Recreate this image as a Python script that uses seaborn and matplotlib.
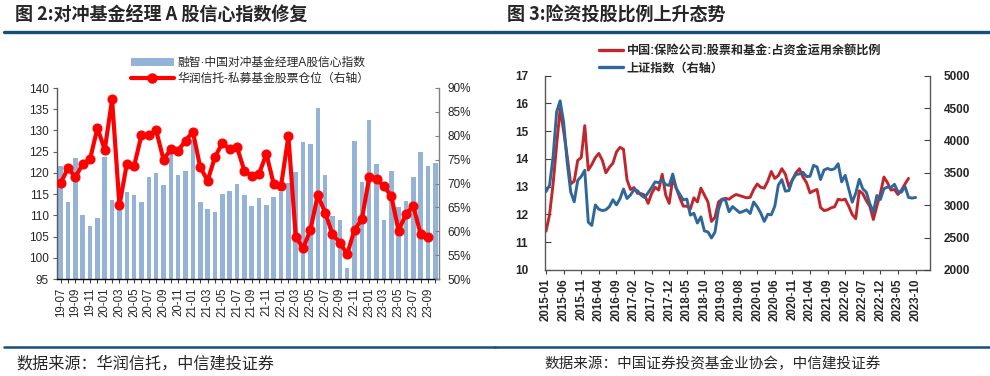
import numpy as np
import pandas as pd
import matplotlib
matplotlib.use("Agg")
import matplotlib.pyplot as plt
import seaborn as sns
from matplotlib.patches import Patch
from matplotlib.lines import Line2D

# ---- Figure 2: hedge fund manager confidence vs. private fund equity position
conf_months = pd.period_range("2019-07", "2023-10", freq="M").strftime("%y-%m").tolist()
confidence = [121.7, 113.2, 123.6, 110.1, 107.5, 109.4, 123.8, 113.6, 111.5, 115.5,
              114.8, 113.2, 119.1, 120.0, 117.2, 124.7, 119.6, 120.5, 127.8, 113.2,
              111.5, 110.8, 115.1, 115.8, 117.4, 114.8, 112.1, 114.2, 112.5, 114.4,
              115.5, 117.6, 120.1, 127.2, 126.9, 135.4, 119.5, 109.9, 108.8, 97.6,
              127.4, 117.9, 132.5, 122.1, 108.9, 120.5, 112.0, 113.4, 119.0, 125.0,
              121.7, 122.4]
position = [70.1, 73.2, 71.3, 74.1, 75.1, 81.6, 77.1, 87.6, 65.4, 74.1,
            73.7, 80.1, 80.2, 81.1, 75.0, 77.2, 76.9, 79.0, 80.8, 73.4,
            70.6, 75.5, 78.5, 77.2, 77.6, 72.7, 71.6, 72.0, 76.2, 69.9,
            69.5, 79.9, 58.9, 56.4, 60.3, 67.6, 63.9, 59.4, 57.6, 55.2,
            60.3, 62.5, 71.3, 71.0, 69.4, 67.4, 60.1, 63.6, 65.3, 59.4,
            58.7, np.nan]

# ---- Figure 3: insurers' stock+fund share vs. Shanghai Composite
ins_months = pd.period_range("2015-01", "2023-10", freq="M").strftime("%Y-%m").tolist()
stock_ratio = [11.4, 12.0, 13.1, 14.5, 15.8, 15.0, 14.1, 13.1, 13.2, 13.95, 14.05, 15.2,
               13.6, 13.8, 14.05, 14.2, 13.95, 13.5, 13.7, 13.85, 14.25, 14.42, 14.35, 13.25,
               12.9, 12.97, 12.76, 12.75, 12.7, 12.4, 12.76, 12.98, 12.88, 13.45, 12.7, 12.4,
               13.3, 12.95, 12.6, 12.3, 12.3, 12.2, 12.6, 12.45, 12.95, 12.7, 12.45, 11.75,
               11.9, 12.45, 12.55, 12.58, 12.55, 12.65, 12.72, 12.68, 12.64, 12.6, 12.62, 12.9,
               13.1, 12.98, 12.95, 13.2, 13.55, 13.3, 13.4, 13.65, 13.45, 13.0, 13.25, 13.5,
               13.65, 13.35, 13.15, 12.78, 12.85, 12.9, 12.25, 12.14, 12.17, 12.24, 12.28, 12.55,
               12.52, 12.55, 12.3, 12.0, 11.85, 12.85, 12.75, 12.5, 12.3, 11.82, 12.3, 12.75,
               13.35, 13.15, 12.88, 12.9, 12.72, 12.88, 13.1, 13.3, np.nan, np.nan]
sh_index = [3210, 3310, 3748, 4441, 4612, 4277, 3664, 3206, 3053, 3383, 3445, 3539,
            2738, 2688, 3004, 2938, 2917, 2930, 2979, 3085, 3005, 3100, 3250, 3104,
            3159, 3242, 3223, 3155, 3117, 3193, 3273, 3361, 3349, 3393, 3317, 3307,
            3481, 3259, 3169, 3082, 3095, 2847, 2876, 2725, 2821, 2603, 2588, 2494,
            2585, 2941, 3091, 3078, 2899, 2979, 2933, 2886, 2905, 2929, 2872, 3050,
            2977, 2880, 2750, 2860, 2852, 2985, 3310, 3396, 3218, 3225, 3392, 3473,
            3483, 3509, 3442, 3447, 3615, 3591, 3397, 3544, 3568, 3547, 3564, 3640,
            3361, 3462, 3252, 3047, 3186, 3399, 3253, 3202, 3024, 2893, 3151, 3089,
            3255, 3280, 3273, 3323, 3205, 3202, 3291, 3120, 3110, 3120]

sns.set_style("white")
plt.rcParams["font.family"] = ["Liberation Sans", "Noto Sans CJK SC"]
plt.rcParams["axes.unicode_minus"] = False

W, H = 990, 376
fig = plt.figure(figsize=(W / 100, H / 100), dpi=100)


def fx(px):
    return px / W


def fy(py):
    return 1 - py / H


RULE = "#164E7B"
CJK = ["Noto Sans CJK SC", "DejaVu Sans"]

# headers, rules and source notes
for x0, x1 in [(4, 495), (495, 990)]:
    fig.add_artist(Line2D([fx(x0), fx(x1)], [fy(32)] * 2, color=RULE, lw=2.4))
    fig.add_artist(Line2D([fx(x0), fx(x1)], [fy(346.5)] * 2, color=RULE, lw=1.8))
fig.text(fx(15), fy(15), "图 2:对冲基金经理 A 股信心指数修复", fontsize=13,
         fontweight="bold", va="center", family=CJK)
fig.text(fx(507), fy(15), "图 3:险资投股比例上升态势", fontsize=13,
         fontweight="bold", va="center", family=CJK)
fig.text(fx(16), fy(364), "数据来源：华润信托，中信建投证券", fontsize=11.6,
         style="italic", va="center", family=CJK)
fig.text(fx(544), fy(364), "数据来源：中国证券投资基金业协会，中信建投证券", fontsize=10.5,
         style="italic", va="center", family=CJK)

# ---------------- left chart ----------------
ax1 = fig.add_axes([fx(57), fy(279), fx(382), 191 / H])
sns.barplot(x=conf_months, y=confidence, ax=ax1, color="#95B3D7", saturation=1,
            width=0.62, edgecolor="none")
ax1.set_ylim(95, 140)
ax1.set_yticks(range(95, 141, 5))
ax1.set_xlim(-0.5, len(conf_months) - 0.5)
ax1.set_xticks(range(len(conf_months)))
ax1.set_xticklabels([m if i % 2 == 0 else "" for i, m in enumerate(conf_months)],
                    rotation=90)
ax1.tick_params(axis="x", bottom=True, length=3, width=0.8, color="#404040",
                direction="out", pad=3, labelsize=8.3)
ax1.tick_params(axis="y", left=True, length=3, width=0.8, color="#606060",
                direction="out", pad=3, labelsize=8.5)
ax1.set_xlabel("")
ax1.set_ylabel("")

ax2 = ax1.twinx()
sns.lineplot(x=np.arange(len(position)), y=position, ax=ax2, color="#FF0000", lw=3,
             marker="o", markersize=6.5, markeredgecolor="#FF0000")
ax2.set_ylim(50, 90)
ax2.set_yticks(range(50, 91, 5))
ax2.set_yticklabels([f"{v}%" for v in range(50, 91, 5)])
ax2.tick_params(axis="y", right=True, left=False, length=3, width=0.8,
                color="#808080", direction="in", pad=6, labelsize=8.5)
ax2.set_xlim(-0.5, len(conf_months) - 0.5)

for a in (ax1, ax2):
    a.spines["top"].set_visible(False)
ax1.spines["right"].set_visible(False)
ax1.spines["left"].set_color("#595959")
ax1.spines["bottom"].set_color("#000000")
ax2.spines["left"].set_visible(False)
ax2.spines["bottom"].set_visible(False)
ax2.spines["right"].set_color("#808080")
for s in ax1.spines.values():
    s.set_linewidth(1)
ax2.spines["right"].set_linewidth(1)

fig.legend([Patch(facecolor="#95B3D7", edgecolor="none"),
            Line2D([], [], color="#FF0000", lw=3, marker="o", markersize=6.5)],
           ["融智·中国对冲基金经理A股信心指数", "华润信托-私募基金股票仓位（右轴）"],
           loc="upper left", bbox_to_anchor=(fx(131), fy(57)), frameon=False,
           prop={"family": ["Liberation Sans", "Noto Sans CJK SC"], "size": 8.5},
           handlelength=3.6, handletextpad=0.3, labelspacing=0.35,
           borderpad=0, borderaxespad=0)

# ---------------- right chart ----------------
axr = fig.add_axes([fx(545), fy(270), fx(385), 194.3 / H])
sns.lineplot(x=np.arange(len(stock_ratio)), y=stock_ratio, ax=axr,
             color="#C0272D", lw=2.1)
axr.set_ylim(10, 17)
axr.set_yticks(range(10, 18))
axr.set_xlim(-0.3, 109.1)
xt = list(range(0, len(ins_months), 5))
axr.set_xticks(xt)
axr.set_xticklabels([ins_months[i] for i in xt], rotation=90)
axr.tick_params(axis="x", bottom=True, length=3, width=0.8, color="#404040",
                direction="out", pad=3, labelsize=8.3)
axr.tick_params(axis="y", left=True, length=4, width=0.8, color="#404040",
                direction="in", pad=12, labelsize=8.5)

axb = axr.twinx()
sns.lineplot(x=np.arange(len(sh_index)), y=sh_index, ax=axb, color="#2F679B", lw=2.1)
axb.set_ylim(2000, 5000)
axb.set_yticks(range(2000, 5001, 500))
axb.set_xlim(-0.3, 109.1)
axb.tick_params(axis="y", right=True, left=False, length=4, width=0.8,
                color="#404040", direction="in", pad=10, labelsize=8.5)

for a in (axr, axb):
    a.spines["top"].set_visible(False)
    a.set_xlabel("")
    a.set_ylabel("")
axr.spines["right"].set_visible(False)
axb.spines["left"].set_visible(False)
axb.spines["bottom"].set_visible(False)
for s in list(axr.spines.values()) + [axb.spines["right"]]:
    s.set_color("#595959")
    s.set_linewidth(1)
for lbl in axr.get_xticklabels() + axr.get_yticklabels() + axb.get_yticklabels():
    lbl.set_fontweight("bold")

fig.legend([Line2D([], [], color="#C0272D", lw=2.4),
            Line2D([], [], color="#2F679B", lw=2.4)],
           ["中国:保险公司:股票和基金:占资金运用余额比例", "上证指数（右轴）"],
           loc="upper left", bbox_to_anchor=(fx(599), fy(45)), frameon=False,
           prop={"family": ["Liberation Sans", "Noto Sans CJK SC"], "size": 8.7,
                 "weight": "bold"},
           handlelength=2.0, handletextpad=0.3, labelspacing=0.45,
           borderpad=0, borderaxespad=0)

fig.savefig("out.png", dpi=100)
